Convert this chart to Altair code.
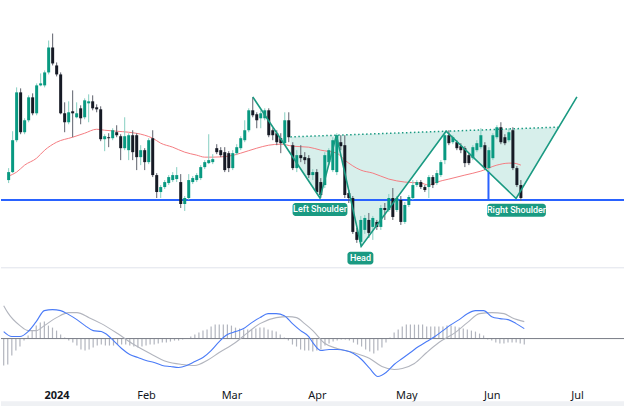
import altair as alt
import pandas as pd

# ---------------- data (arbitrary price units) ----------------
opens = [120,128,160,208,168,180,203,187,215,215,
         228,253,235,226,187,178,189,183,192,183,
         197,199,193,191,161,163,162,168,164,152,
         150,165,165,143,150,138,162,125,108,113,
         117,120,121,118,96,102,118,120,122,133,
         137,138,152,150,148,147,132,147,152,160,
         170,190,186,182,182,190,170,167,162,157,
         180,155,132,145,143,142,125,128,118,115,
         138,130,128,158,155,107,102,68,58,70,
         80,73,78,73,92,90,102,90,100,78,
         95,102,115,118,113,113,123,117,125,140,
         165,158,158,154,152,145,142,150,153,155,
         132,142,163,173,163,160,170,132,115]
highs = [132,169,213,212,182,205,207,217,227,230,
         260,267,238,228,198,199,210,198,195,202,
         206,205,196,194,166,167,172,175,166,183,
         167,170,167,155,152,162,170,127,115,120,
         125,128,133,126,104,126,124,127,135,140,
         166,146,156,153,153,149,150,156,164,180,
         192,203,188,190,192,192,172,170,167,188,
         188,158,150,155,148,145,131,131,122,148,
         152,163,167,165,165,110,104,72,84,85,
         87,84,80,95,97,106,112,104,104,98,
         105,120,120,120,115,125,125,130,140,168,
         170,165,160,157,154,147,155,160,172,158,
         153,167,175,178,166,172,173,134,120]
lows = [117,127,158,166,166,178,185,185,214,213,
        226,235,224,186,168,176,163,182,176,181,
        178,190,188,159,149,153,160,163,140,150,
        140,140,130,135,130,136,123,102,102,111,
        115,118,118,92,89,100,116,118,120,131,
        136,136,146,143,128,128,130,145,150,158,
        168,183,172,172,180,163,160,155,147,155,
        158,130,128,138,136,122,120,106,102,112,
        135,128,125,150,102,97,66,57,53,66,
        62,60,70,70,80,88,80,88,75,76,
        93,100,113,111,108,102,112,115,123,136,
        155,156,150,147,133,135,140,148,151,130,
        128,140,161,156,155,158,130,113,99]
closes = [128,160,208,168,180,203,187,215,217,228,
          253,237,226,187,178,188,187,187,182,200,
          199,192,191,161,164,162,170,165,152,164,
          165,148,143,150,138,160,125,108,113,118,
          123,125,125,96,102,120,122,125,133,138,
          140,141,148,145,130,132,147,153,162,170,
          190,185,180,187,190,165,165,158,157,180,
          163,132,145,142,140,125,128,108,105,145,
          150,160,165,154,105,102,68,60,80,82,
          67,82,73,92,90,102,83,102,78,95,
          103,115,118,113,110,123,115,127,138,165,
          157,163,152,150,137,137,153,157,165,132,
          150,165,173,158,157,168,132,115,102]

# moving average (bar index, value)
ma_idx = [0,2,4,7,9,12,16,19,22,24,27,30,34,36,38,41,44,47,49,51,55,58,62,65,68,
          71,75,78,82,84,88,91,95,99,103,105,107,110,114,118,122,125,126,128]
ma_val = [124,128,135,142,150,158,163,167,171,170,169,168,165,162,157,153,148,145,143,143,
          144,147,152,155,156,154,153,150,147,140,130,127,121,118,117,115,118,121,125,129,
          135,137,137,135]

# MACD line
macd_idx = [0,2,4,6,8,10,12,14,16,18,20,22,24,
            25,27,29,31,33,35,37,39,41,43,45,47,49,51,53,55,57,59,61,63,65,67,69,71,73,75,
            76,78,80,82,84,86,88,90,92,94,96,98,100,102,104,106,108,110,112,114,116,118,120,
            122,124,126,128]
macd_val = [7,2,2,7,17,28,29,28,24,19,13,8,7,
            5,-2,-10,-16,-19,-22,-24,-27,-28,-29,-27,-23,-19,-12,-3,4,7,10,16,21,25,25,23,15,8,2,
            -4,-12,-11,-11,-12,-15,-21,-30,-38,-34,-26,-20,-14,-8,-3,2,8,14,19,25,28,28,22,
            20,19,15,10]
# signal line
sig_idx = [0,1,4,6,8,10,13,16,18,21,24,28,32,36,40,44,47,50,53,57,60,63,67,70,72,
           74,76,79,82,86,90,93,96,98,101,104,107,111,114,117,120,123,125,128]
sig_val = [33,26,13,8,8,13,21,26,26,21,15,5,-6,-15,-23,-26,-27,-22,-14,-4,6,15,21,22,21,
           15,8,-5,-10,-14,-20,-28,-31,-30,-25,-14,-4,6,16,25,26,25,21,17]
# histogram (one per bar)
hist = [-27,-26,-17,-12,-8,-2,3,8,13,16,
        17,13,11,8,4,1,-2,-4,-7,-11,
        -12,-11,-9,-7,-6,-7,-7,-7,-6,-6,
        -6,-7,-8,-9,-8,-7,-6,-6,-5,-4,
        -4,-3,-2,-2,-1,0,2,4,6,8,
        9,12,14,14,14,14,13,11,10,9,
        9,9,10,11,11,9,8,7,4,1,
        -2,-6,-8,-11,-12,-12,-13,-12,-11,-7,
        -5,-3,-2,-1,-1,-2,-4,-6,-8,-11,
        -13,-15,-12,-9,-4,1,6,9,12,14,
        14,14,14,14,12,12,12,12,12,13,
        13,12,11,10,9,8,7,5,3,-1,
        -2,-4,-5,-5,-4,-4,-4,-5,-6]

month_idx = [13, 35, 56, 77, 99, 120, 141]
month_lbl = ["2024", "Feb", "Mar", "Apr", "May", "Jun", "Jul"]

# drawing anchors (bar index, price)
neckline_level = 100
pattern_idx = [61.0, 77.8, 81.9, 88.1, 109.3, 126.8, 142.0]
pattern_val = [203.5, 102.0, 165.0, 53.5, 169.0, 101.5, 203.5]
neck_ext = [70.4, 137.3]
marker_idx = 119.9
labels = ["Left Shoulder", "Head", "Right Shoulder"]
label_idx = [77.8, 87.9, 126.9]
label_val = [90.5, 41.7, 89.8]

# ---------------- chart ----------------
W = 625
TEAL = "#1a9a82"
xs = alt.Scale(domain=[-0.662, 152.52], nice=False, zero=False)
ys = alt.Scale(domain=[32, 300], nice=False, zero=False)
ms = alt.Scale(domain=[-42, 70], nice=False, zero=False)
X = lambda f: alt.X(f, scale=xs, axis=None)
Y = lambda f: alt.Y(f, scale=ys, axis=None)

def neck(x):
    x2, y2, x4, y4 = pattern_idx[2], pattern_val[2], pattern_idx[4], pattern_val[4]
    return y2 + (x - x2) * (y4 - y2) / (x4 - x2)

def leg(x, a, b):
    xa, ya, xb, yb = pattern_idx[a], pattern_val[a], pattern_idx[b], pattern_val[b]
    return ya + (x - xa) * (yb - ya) / (xb - xa)

cd = pd.DataFrame({"i": range(len(opens)), "open": opens, "high": highs,
                   "low": lows, "close": closes})
base = alt.Chart(cd).encode(x=X("i:Q"))
is_up = alt.datum.close >= alt.datum.open
wick = base.mark_rule(strokeWidth=1).encode(
    y=Y("low:Q"), y2="high:Q",
    color=alt.condition(is_up, alt.value("#86cfc2"), alt.value("#5d606b")))
body = base.mark_bar(size=3).encode(
    y=Y("open:Q"), y2="close:Q",
    color=alt.condition(is_up, alt.value("#089981"), alt.value("#161a25")))

ma = alt.Chart(pd.DataFrame({"i": ma_idx, "v": ma_val})).mark_line(
    color="#f47c82", strokeWidth=1, interpolate="monotone").encode(x=X("i:Q"), y=Y("v:Q"))

neckline = alt.Chart(pd.DataFrame({"v": [neckline_level]})).mark_rule(
    color="#2962ff", strokeWidth=2).encode(y=Y("v:Q"), x=alt.value(0), x2=alt.value(W))

fx = [neck_ext[0]] + pattern_idx[1:6] + [neck_ext[1]]
flo = [leg(neck_ext[0], 0, 1)] + pattern_val[1:6] + [leg(neck_ext[1], 5, 6)]
fhi = [neck(v) for v in fx]
fill = alt.Chart(pd.DataFrame({"i": fx, "lo": flo, "hi": fhi})).mark_area(
    color="#089981", opacity=0.16).encode(x=X("i:Q"), y=Y("lo:Q"), y2="hi:Q")

pat = alt.Chart(pd.DataFrame({"i": pattern_idx, "v": pattern_val,
                              "k": list(range(len(pattern_idx)))})).mark_line(
    color=TEAL, strokeWidth=1.6).encode(x=X("i:Q"), y=Y("v:Q"), order="k:Q")

dotted = alt.Chart(pd.DataFrame({"i": [neck_ext[0]], "i2": [neck_ext[1]],
                                 "v": [neck(neck_ext[0])], "v2": [neck(neck_ext[1])]})).mark_rule(
    color=TEAL, strokeWidth=1.5, strokeDash=[1.5, 2.5]).encode(x=X("i:Q"), x2="i2", y=Y("v:Q"), y2="v2")

marker = alt.Chart(pd.DataFrame({"i": [marker_idx], "v": [leg(marker_idx, 4, 5)],
                                 "v2": [neckline_level]})).mark_rule(
    color="#2962ff", strokeWidth=2).encode(x=X("i:Q"), y=Y("v:Q"), y2="v2")

box_w = {"Left Shoulder": 55, "Head": 26, "Right Shoulder": 59}
lab_layers = []
for t, li, lv in zip(labels, label_idx, label_val):
    ld = pd.DataFrame({"i": [li], "v": [lv], "t": [t]})
    lab_layers.append(alt.Chart(ld).mark_bar(size=box_w[t], color=TEAL, cornerRadius=3,
                                             yOffset=-6.5, y2Offset=6.5).encode(
        x=X("i:Q"), y=Y("v:Q"), y2="v"))
    lab_layers.append(alt.Chart(ld).mark_text(color="white", fontSize=9, font="Roboto",
                                              fontWeight=500, align="center", baseline="middle").encode(
        x=X("i:Q"), y=Y("v:Q"), text="t:N"))

sep = alt.Chart(pd.DataFrame({"v": [32]})).mark_rule(color="#e0e3eb", strokeWidth=1).encode(
    y=Y("v:Q"), x=alt.value(0), x2=alt.value(W))

price = alt.layer(fill, neckline, ma, wick, body, pat, dotted, marker, *lab_layers, sep).properties(
    width=W, height=268)

# MACD pane
expr = " : ".join(f"datum.value == {v} ? '{l}'" for v, l in zip(month_idx, month_lbl)) + " : ''"
xaxis = alt.Axis(values=month_idx, labelExpr=expr, ticks=False, domain=False, grid=False,
                 labelPadding=9, title=None, labelFontSize=11, labelColor="#131722",
                 labelFont="Noto Sans", labelFlush=False, labelOverlap=False,
                 labelFontWeight={"condition": {"test": f"datum.value == {month_idx[0]}",
                                                "value": "bold"}, "value": "normal"})
MX = lambda f: alt.X(f, scale=xs, axis=xaxis)
MY = lambda f: alt.Y(f, scale=ms, axis=None)

hd = pd.DataFrame({"i": range(len(hist)), "h": hist, "z": [0] * len(hist)})
hbar = alt.Chart(hd).mark_rule(color="#b2b5be", strokeWidth=1.2).encode(
    x=MX("i:Q"), y=MY("h:Q"), y2="z")
zero = alt.Chart(pd.DataFrame({"v": [0]})).mark_rule(color="#787b86", strokeWidth=1).encode(
    y=MY("v:Q"), x=alt.value(0), x2=alt.value(W))
sigl = alt.Chart(pd.DataFrame({"i": sig_idx, "v": sig_val})).mark_line(
    color="#b2b5be", strokeWidth=1.1, interpolate="monotone").encode(x=MX("i:Q"), y=MY("v:Q"))
macdl = alt.Chart(pd.DataFrame({"i": macd_idx, "v": macd_val})).mark_line(
    color="#4a7bf7", strokeWidth=1.1, interpolate="monotone").encode(x=MX("i:Q"), y=MY("v:Q"))
band = alt.Chart(pd.DataFrame({"v": [0]})).mark_rect(color="#eff1f4").encode(
    x=alt.value(0), x2=alt.value(W), y=alt.value(133), y2=alt.value(138))

macd = alt.layer(hbar, zero, sigl, macdl, band).properties(width=W, height=112)

chart = alt.vconcat(price, macd, spacing=0).properties(
    padding=0, background="white").configure_view(stroke=None)

chart.save("out.html", embed_options={"renderer": "svg", "actions": False})
